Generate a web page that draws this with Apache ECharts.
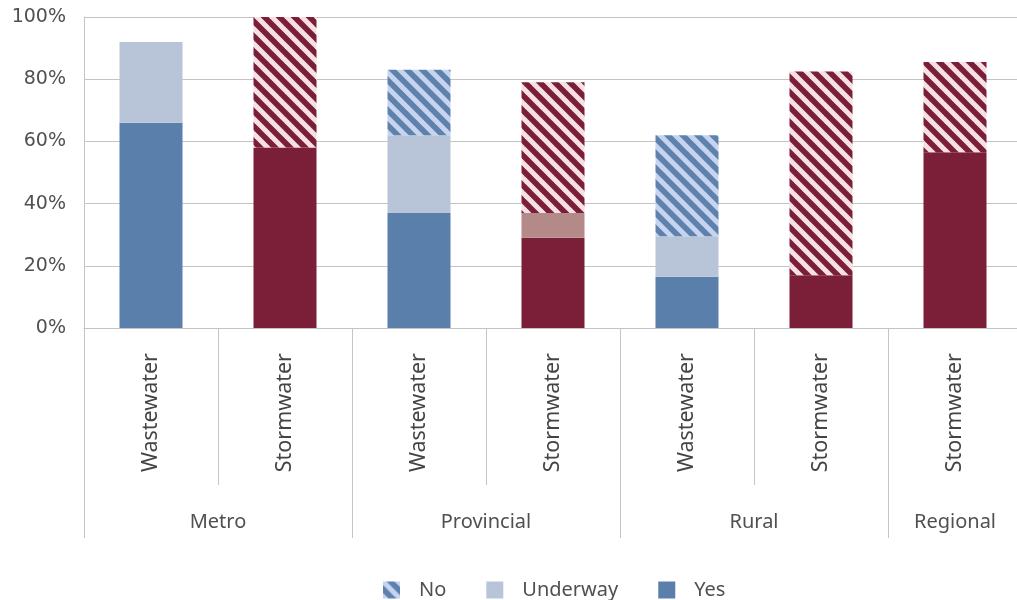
<!DOCTYPE html>
<html>
<head>
<meta charset="utf-8">
<script src="https://cdn.jsdelivr.net/npm/echarts@6/dist/echarts.min.js"></script>
<style>
  html, body { margin: 0; padding: 0; background: #ffffff; overflow: hidden; }
  #chart { width: 1023px; height: 600px; }
</style>
</head>
<body>
<div id="chart"></div>
<script>
// Sub-category (infrastructure type) and municipal group for each bar
const categories = ['Wastewater', 'Stormwater', 'Wastewater', 'Stormwater', 'Wastewater', 'Stormwater', 'Stormwater'];
const groups = ['Metro', 'Metro', 'Provincial', 'Provincial', 'Rural', 'Rural', 'Regional'];

// Share of respondents (%) per status
const yesValues = [66, 58, 37, 29, 16.5, 17, 56.5];
const underwayValues = [26, 0, 25, 8, 13, 0, 0];
const noValues = [0, 42, 21, 42, 32.5, 65.5, 29];

const yTickLabels = ['0%', '20%', '40%', '60%', '80%', '100%'];

const FONT = '"Noto Sans", "Open Sans", sans-serif';
const TEXT = '#505050';
const LINE = '#c4c4c4';

// Diagonal stripe fill used for the "No" segments
function stripes(bg, fg) {
  const s = 15;
  const c = document.createElement('canvas');
  c.width = s; c.height = s;
  const g = c.getContext('2d');
  g.fillStyle = bg;
  g.fillRect(0, 0, s, s);
  g.strokeStyle = fg;
  g.lineWidth = 5;
  g.lineCap = 'square';
  for (const o of [-s, 0, s]) {
    g.beginPath();
    g.moveTo(o - s, -s);
    g.lineTo(o + 2 * s, 2 * s);
    g.stroke();
  }
  return { image: c, repeat: 'repeat' };
}

const palette = {
  Wastewater: {
    yes: '#5b7fab',
    underway: '#b8c5d9',
    no: stripes('#5f82ad', '#c6d4f0')
  },
  Stormwater: {
    yes: '#7a1f37',
    underway: '#b48a88',
    no: stripes('#7a1f37', '#f6e0e5')
  }
};

function seriesData(values, key) {
  return values.map((v, i) => ({
    value: v,
    itemStyle: { color: palette[categories[i]][key] }
  }));
}

function isGroupStart(i) {
  return i === 0 || groups[i] !== groups[i - 1];
}
function groupSize(i) {
  return groups.filter(g => g === groups[i]).length;
}

const chart = echarts.init(document.getElementById('chart'), null, { renderer: 'canvas' });

const barCommon = {
  type: 'bar',
  stack: 'total',
  barWidth: 63,
  xAxisIndex: 0,
  yAxisIndex: 0
};

chart.setOption({
  animation: false,
  backgroundColor: '#ffffff',
  grid: { left: 84, top: 17, right: 1, height: 311, containLabel: false },
  legend: {
    data: ['No', 'Underway', 'Yes'],
    left: 378,
    top: 575,
    itemWidth: 17,
    itemHeight: 17,
    itemGap: 40,
    icon: 'rect',
    textStyle: { fontSize: 20, color: TEXT, fontFamily: FONT, padding: [0, 0, 0, 14] }
  },
  xAxis: [
    {
      type: 'category',
      data: categories,
      position: 'bottom',
      offset: 0,
      axisLine: { show: true, lineStyle: { color: LINE, width: 1 } },
      axisTick: { show: true, length: 157, lineStyle: { color: LINE } },
      axisLabel: {
        rotate: 90,
        margin: 25,
        interval: 0,
        fontSize: 21.5,
        color: '#444',
        fontFamily: FONT
      },
      splitLine: { show: false }
    },
    {
      type: 'category',
      data: groups,
      position: 'bottom',
      offset: 0,
      axisLine: { show: false },
      axisTick: {
        show: true,
        length: 210,
        interval: (i) => isGroupStart(i),
        lineStyle: { color: LINE }
      },
      axisLabel: {
        interval: (i) => isGroupStart(i),
        margin: 184,
        fontSize: 20,
        color: TEXT,
        fontFamily: FONT,
        formatter: (val, i) => groupSize(i) > 1 ? '{wide|' + val + '}' : '{one|' + val + '}',
        rich: {
          wide: { padding: [0, 0, 0, 134], fontSize: 20, color: TEXT, fontFamily: FONT },
          one: { fontSize: 20, color: TEXT, fontFamily: FONT }
        }
      },
      splitLine: { show: false }
    }
  ],
  yAxis: {
    type: 'value',
    min: 0,
    max: 100,
    interval: 20,
    axisLine: { show: true, lineStyle: { color: LINE } },
    axisTick: { show: false },
    axisLabel: {
      margin: 18,
      fontSize: 19,
      color: TEXT,
      fontFamily: '"DejaVu Sans", sans-serif',
      formatter: (v) => yTickLabels[Math.round(v / 20)]
    },
    splitLine: { show: true, lineStyle: { color: LINE, width: 1 } }
  },
  series: [
    Object.assign({}, barCommon, {
      name: 'Yes',
      itemStyle: { color: palette.Wastewater.yes },
      data: seriesData(yesValues, 'yes')
    }),
    Object.assign({}, barCommon, {
      name: 'Underway',
      itemStyle: { color: palette.Wastewater.underway },
      data: seriesData(underwayValues, 'underway')
    }),
    Object.assign({}, barCommon, {
      name: 'No',
      itemStyle: { color: palette.Wastewater.no },
      data: seriesData(noValues, 'no')
    })
  ]
});
</script>
</body>
</html>
